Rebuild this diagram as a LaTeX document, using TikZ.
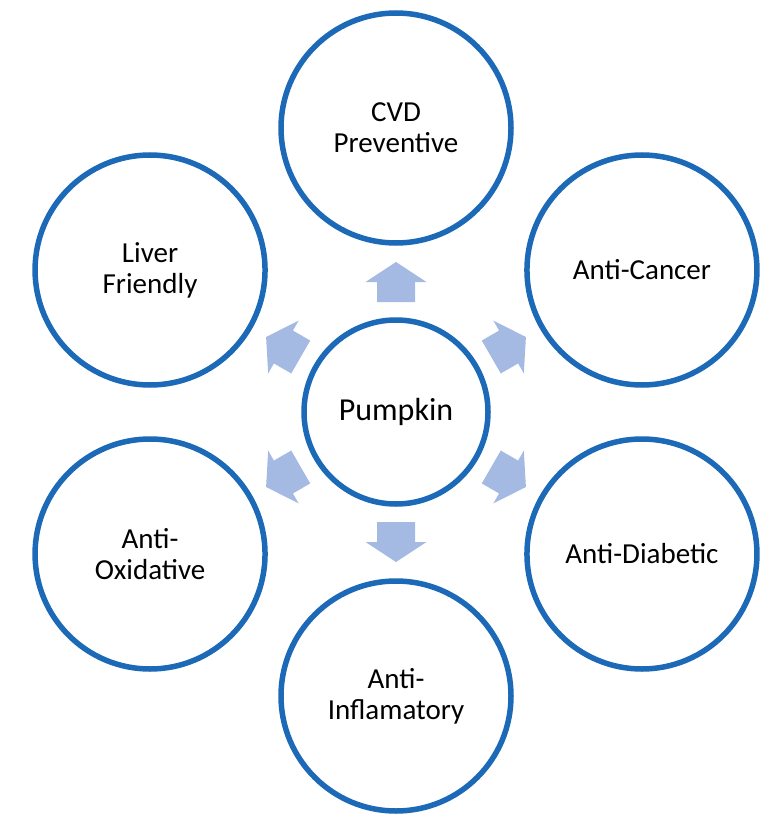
\documentclass[tikz,border=0pt]{standalone}
\usepackage{fontspec}
\usetikzlibrary{calc}
\setmainfont{Carlito}
\definecolor{ringblue}{RGB}{28,105,183}
\definecolor{arrowfill}{RGB}{164,186,226}
\begin{document}
\begin{tikzpicture}[x=1pt,y=1pt,
  ring/.style={circle,draw=ringblue,line width=5.5pt,fill=white,inner sep=0pt,
    minimum size=230pt,align=center,font=\fontsize{29}{31}\selectfont},
  hub/.style={ring,minimum size=184pt,font=\fontsize{32}{36}\selectfont},
  blockarrow/.style={fill=arrowfill}]
\useasboundingbox (0,0) rectangle (777,-829);
\node[hub] (c) at (396,-412) {Pumpkin};
\node[ring] (cvd) at ($(c)+(90:284)$) {CVD\\Preventive};
\node[ring] (liver) at ($(c)+(150:284)$) {Liver\\Friendly};
\node[ring] (cancer) at ($(c)+(30:284)$) {Anti-Cancer};
\node[ring] (oxid) at ($(c)+(210:284)$) {Anti-\\Oxidative};
\node[ring] (diab) at ($(c)+(330:284)$) {Anti-Diabetic};
\node[ring] (infl) at ($(c)+(270:284)$) {Anti-\\Inflamatory};
\foreach \a in {90,150,30,210,330,270}{
  \fill[blockarrow,shift={(c)},rotate=\a]
    (110,-19) -- (130,-19) -- (130,-30.5) -- (150,0) -- (130,30.5) -- (130,19) -- (110,19) -- cycle;
}
\end{tikzpicture}
\end{document}
